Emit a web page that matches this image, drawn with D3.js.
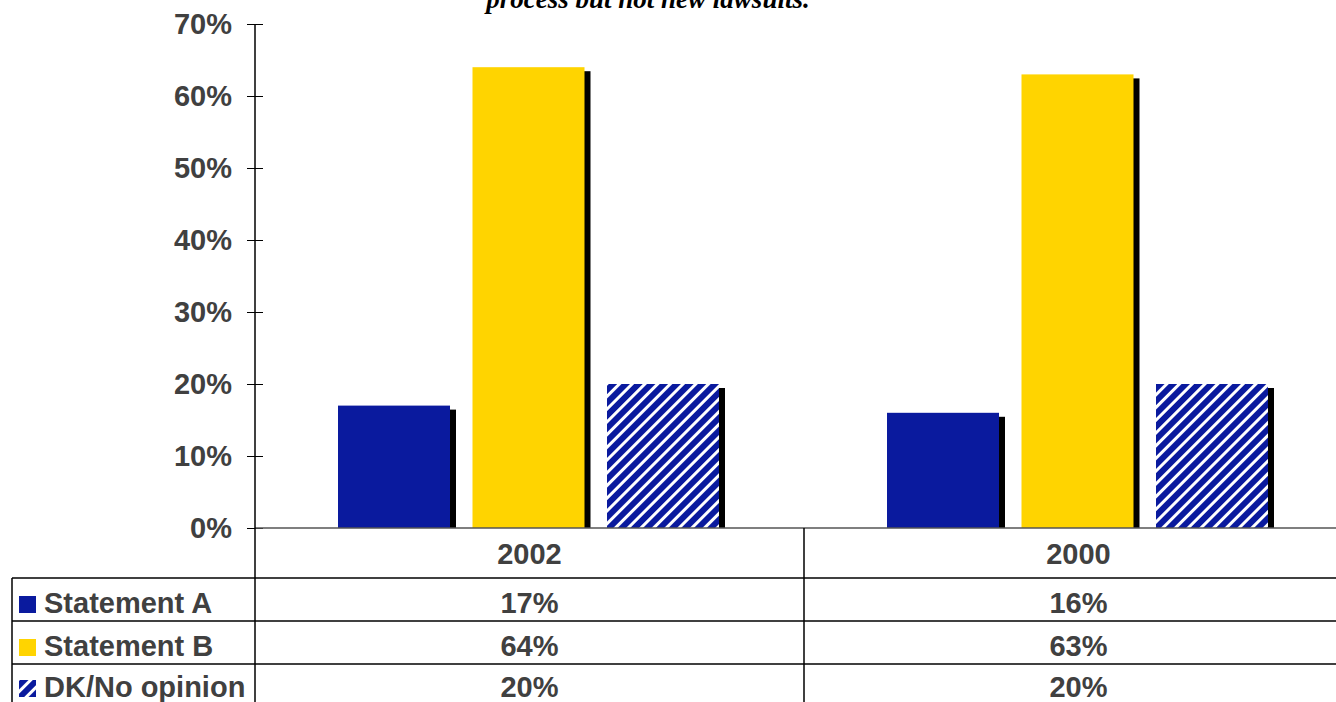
<!DOCTYPE html>
<html>
<head>
<meta charset="utf-8">
<script src="https://cdn.jsdelivr.net/npm/d3@7"></script>
<style>
  body { margin: 0; background: #fff; }
  svg { display: block; }
  text { font-family: "Liberation Sans", Arial, sans-serif; font-weight: bold; fill: #404040; }
</style>
</head>
<body>
<svg id="chart"></svg>
<script>
const years = ['2002', '2000']
const seriesNames = ['Statement A', 'Statement B', 'DK/No opinion']
const statementA = [17, 16]
const statementB = [64, 63]
const dkNoOpinion = [20, 20]
const yTicks = [0, 10, 20, 30, 40, 50, 60, 70]
const titleLine = 'process but not new lawsuits.'

const seriesValues = [statementA, statementB, dkNoOpinion]
const colors = ['#0a1a9e', '#ffd400', 'url(#hatch)']

const width = 1336, height = 702
const svg = d3.select('#chart').attr('width', width).attr('height', height)

// hatch pattern for DK bars
const defs = svg.append('defs')
const pat = defs.append('pattern')
  .attr('id', 'hatch')
  .attr('patternUnits', 'userSpaceOnUse')
  .attr('width', 9).attr('height', 9)
  .attr('patternTransform', 'rotate(45)')
pat.append('rect').attr('width', 9).attr('height', 9).attr('fill', '#fff')
pat.append('rect').attr('width', 6).attr('height', 9).attr('fill', '#0a1a9e')

const plotLeft = 255, plotTop = 24, baseY = 528

const y = d3.scaleLinear().domain([0, 70]).range([baseY, plotTop])
const x0 = d3.scaleBand().domain(years).range([plotLeft, plotLeft + 2 * 549])
const groupW = 381
const x1 = d3.scaleBand().domain(seriesNames).range([0, groupW]).paddingInner(22.5 / 134.5)

// title (only last line visible)
svg.append('text')
  .attr('x', 648).attr('y', 8)
  .attr('text-anchor', 'middle')
  .style('font-family', '"Liberation Serif", "Times New Roman", serif')
  .style('font-style', 'italic')
  .style('font-size', '27px')
  .style('fill', '#000')
  .text(titleLine)

// y axis
const yAxis = d3.axisLeft(y).tickValues(yTicks).tickFormat(d => d + '%').tickSize(8).tickPadding(15)
const ag = svg.append('g').attr('transform', `translate(${plotLeft},0)`).call(yAxis)
ag.select('.domain').remove()
ag.selectAll('.tick line').attr('x1', -8).attr('x2', 8).attr('stroke', '#000')
ag.selectAll('.tick text').style('font-size', '29px').style('font-family', '"Liberation Sans", Arial, sans-serif').attr('fill', '#404040')

// bars
const bars = []
years.forEach((yr, i) => {
  seriesNames.forEach((s, j) => {
    bars.push({ year: yr, series: s, value: seriesValues[j][i], color: colors[j] })
  })
})
const barX = d => x0(d.year) + (x0.bandwidth() - groupW) / 2 - 1 + x1(d.series)

svg.append('g').selectAll('rect').data(bars).enter().append('rect')
  .attr('x', d => barX(d) + 6)
  .attr('y', d => y(d.value) + 4)
  .attr('width', x1.bandwidth())
  .attr('height', d => baseY - y(d.value) - 4)
  .attr('fill', '#000')

svg.append('g').selectAll('rect').data(bars).enter().append('rect')
  .attr('x', barX)
  .attr('y', d => y(d.value))
  .attr('width', x1.bandwidth())
  .attr('height', d => baseY - y(d.value))
  .attr('fill', d => d.color)

// data table
const rowY = [528, 578, 621, 664, 707]
const lines = svg.append('g').attr('stroke', '#000').attr('stroke-width', 1.5)
lines.append('line').attr('x1', plotLeft).attr('x2', width).attr('y1', baseY).attr('y2', baseY).attr('stroke', '#555')
rowY.slice(1, 4).forEach(yy => {
  lines.append('line').attr('x1', 12).attr('x2', width).attr('y1', yy).attr('y2', yy)
})
lines.append('line').attr('x1', plotLeft).attr('x2', plotLeft).attr('y1', plotTop).attr('y2', height)
lines.append('line').attr('x1', 12).attr('x2', 12).attr('y1', rowY[1]).attr('y2', height)
lines.append('line').attr('x1', x0('2000')).attr('x2', x0('2000')).attr('y1', baseY).attr('y2', height)

const tbl = svg.append('g').style('font-size', '29px')
years.forEach(yr => {
  const cx = x0(yr) + x0.bandwidth() / 2
  tbl.append('text').attr('x', cx).attr('y', (rowY[0] + rowY[1]) / 2 + 11).attr('text-anchor', 'middle').text(yr)
})
seriesNames.forEach((s, j) => {
  const cy = (rowY[j + 1] + rowY[j + 2]) / 2
  const ty = Math.min(cy + 13.5, 697)
  years.forEach((yr, i) => {
    tbl.append('text')
      .attr('x', x0(yr) + x0.bandwidth() / 2)
      .attr('y', ty)
      .attr('text-anchor', 'middle')
      .text(seriesValues[j][i] + '%')
  })
  tbl.append('text').attr('x', 44).attr('y', ty).text(s)
  tbl.append('rect').attr('x', 19).attr('y', ty - 17).attr('width', 17).attr('height', 17)
    .attr('fill', colors[j])
})
</script>
</body>
</html>
